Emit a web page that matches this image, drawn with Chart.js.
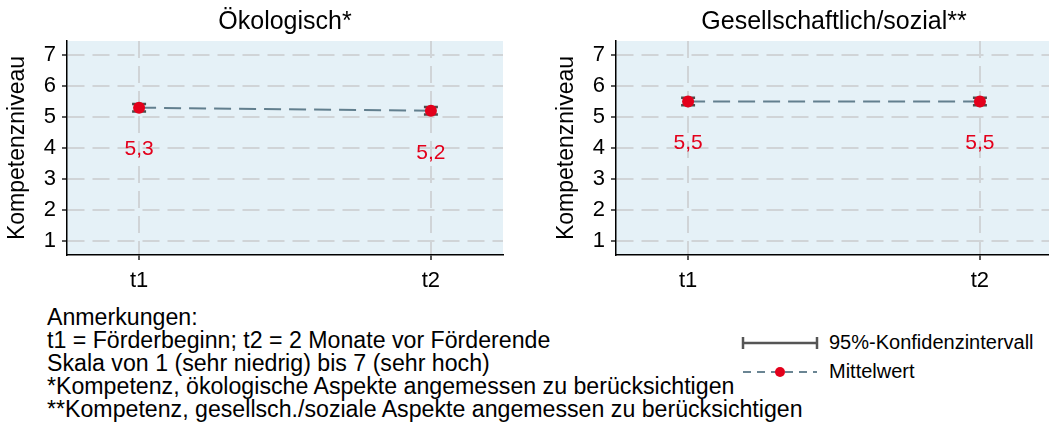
<!DOCTYPE html>
<html>
<head>
<meta charset="utf-8">
<script src="https://cdn.jsdelivr.net/npm/chart.js@4"></script>
<style>
  html, body { margin: 0; padding: 0; background: #fff; overflow: hidden; width: 1049px; height: 425px; }
  .panel { position: absolute; top: 0; }
  #notes { position: absolute; left: 47px; top: 306px; font: 23px "Liberation Sans", Arial, sans-serif; line-height: 23px; color: #000; white-space: nowrap; }
  #notes span { display: inline-block; }
  #legend { position: absolute; left: 735px; top: 328px; font: 20px "Liberation Sans", Arial, sans-serif; color: #000; }
  #legend div { height: 29px; display: flex; align-items: center; }
  #legend svg { margin-right: 10px; }
</style>
</head>
<body>
<canvas id="oeko" class="panel" width="520" height="300" style="left:0"></canvas>
<canvas id="sozial" class="panel" width="520" height="300" style="left:549px"></canvas>

<div id="notes">
  <span>Anmerkungen:</span><br>
  <span>t1 = Förderbeginn; t2 = 2 Monate vor Förderende</span><br>
  <span>Skala von 1 (sehr niedrig) bis 7 (sehr hoch)</span><br>
  <span>*Kompetenz, ökologische Aspekte angemessen zu berücksichtigen</span><br>
  <span id="longest">**Kompetenz, gesellsch./soziale Aspekte angemessen zu berücksichtigen</span>
</div>

<div id="legend">
  <div>
    <svg width="84" height="14"><line x1="8" y1="7" x2="82" y2="7" stroke="#555" stroke-width="2.5"/><line x1="8" y1="1" x2="8" y2="13" stroke="#555" stroke-width="2.5"/><line x1="82" y1="1" x2="82" y2="13" stroke="#555" stroke-width="2.5"/></svg>
    95%-Konfidenzintervall
  </div>
  <div>
    <svg width="84" height="14"><line x1="8" y1="7" x2="82" y2="7" stroke="#6a8593" stroke-width="2" stroke-dasharray="8,6"/><circle cx="45" cy="7" r="5" fill="#e3001b"/></svg>
    Mittelwert
  </div>
</div>

<script>
const categories = ['t1', 't2'];
const yTicks = [1, 2, 3, 4, 5, 6, 7];

const oekoMean = [5.3, 5.2];
const oekoLower = [5.18, 5.08];
const oekoUpper = [5.42, 5.32];

const sozialMean = [5.5, 5.5];
const sozialLower = [5.38, 5.38];
const sozialUpper = [5.62, 5.62];

const FONT = '"Liberation Sans", Arial, sans-serif';
const RED = '#e3001b';

// Anmerkungen auf feste Breite bringen (längste Zeile ~756px)
(function fitNotes() {
  const notes = document.getElementById('notes');
  const w = document.getElementById('longest').getBoundingClientRect().width;
  if (w > 0) notes.style.fontSize = (23 * 756 / w).toFixed(2) + 'px';
})();

// hellblauer Hintergrund der Plotfläche
const plotBg = {
  id: 'plotBg',
  beforeDraw(chart) {
    const a = chart.chartArea, ctx = chart.ctx;
    ctx.save();
    ctx.fillStyle = '#e5f1f7';
    ctx.fillRect(a.left, a.top, a.right - a.left, a.bottom - a.top);
    ctx.restore();
  }
};

// Konfidenzintervalle hinter den Punkten
const ciBars = {
  id: 'ciBars',
  beforeDatasetsDraw(chart) {
    const ds = chart.data.datasets[0];
    const { x, y } = chart.scales;
    const ctx = chart.ctx;
    ctx.save();
    ctx.strokeStyle = '#4d4d4d';
    ctx.lineWidth = 2.5;
    ds.lower.forEach((lo, i) => {
      const px = x.getPixelForValue(i + 1);
      const y1 = y.getPixelForValue(lo), y2 = y.getPixelForValue(ds.upper[i]);
      ctx.beginPath();
      ctx.moveTo(px, y1); ctx.lineTo(px, y2);
      ctx.moveTo(px - 7, y1); ctx.lineTo(px + 7, y1);
      ctx.moveTo(px - 7, y2); ctx.lineTo(px + 7, y2);
      ctx.stroke();
    });
    ctx.restore();
  }
};

// Mittelwerte als Text unter den Punkten
const meanLabels = {
  id: 'meanLabels',
  afterDatasetsDraw(chart) {
    const meta = chart.getDatasetMeta(0);
    const ds = chart.data.datasets[0];
    const ctx = chart.ctx;
    ctx.save();
    ctx.fillStyle = RED;
    ctx.font = '21px ' + FONT;
    ctx.textAlign = 'center';
    ctx.textBaseline = 'middle';
    meta.data.forEach((pt, i) => {
      ctx.fillText(ds.data[i].y.toFixed(1).replace('.', ','), pt.x, pt.y + 42);
    });
    ctx.restore();
  }
};

function gridOpts() {
  return {
    color: '#d0d4d7',
    lineWidth: 2,
    tickColor: '#222',
    tickWidth: 1.5,
    tickLength: 5,
    tickBorderDash: []
  };
}

function makePanel(id, title, mean, lower, upper) {
  new Chart(document.getElementById(id), {
    type: 'scatter',
    data: {
      datasets: [{
        data: mean.map((v, i) => ({ x: i + 1, y: v })),
        lower: lower,
        upper: upper,
        showLine: true,
        borderColor: '#627f8e',
        borderWidth: 2,
        borderDash: [17, 8],
        pointRadius: 6,
        pointHoverRadius: 6,
        pointBackgroundColor: RED,
        pointBorderWidth: 0
      }]
    },
    options: {
      responsive: false,
      animation: false,
      events: [],
      layout: { padding: { left: 0, right: 17, top: 0, bottom: 0 } },
      plugins: {
        legend: { display: false },
        tooltip: { enabled: false },
        title: {
          display: true,
          text: title,
          fullSize: false,
          color: '#000',
          font: { family: FONT, size: 25, weight: 'normal' },
          padding: { top: 7, bottom: 4 }
        }
      },
      scales: {
        x: {
          type: 'linear',
          min: 0.753,
          max: 2.247,
          afterBuildTicks: s => { s.ticks = categories.map((c, i) => ({ value: i + 1 })); },
          afterFit: s => { s.height = 45; },
          grid: gridOpts(),
          border: { display: true, color: '#000', width: 1.5, dash: [17, 8] },
          ticks: {
            color: '#000',
            font: { family: FONT, size: 22 },
            padding: 8,
            maxRotation: 0,
            callback: v => categories[v - 1]
          }
        },
        y: {
          min: 0.55,
          max: 7.45,
          afterBuildTicks: s => { s.ticks = yTicks.map(v => ({ value: v })); },
          afterFit: s => { s.width = 67; },
          grid: gridOpts(),
          border: { display: true, color: '#000', width: 1.5, dash: [17, 8] },
          ticks: {
            color: '#000',
            font: { family: FONT, size: 22 },
            padding: 6
          },
          title: {
            display: true,
            text: 'Kompetenzniveau',
            color: '#000',
            font: { family: FONT, size: 23 },
            padding: { top: 4, bottom: 0 }
          }
        }
      }
    },
    plugins: [plotBg, ciBars, meanLabels]
  });
}

makePanel('oeko', 'Ökologisch*', oekoMean, oekoLower, oekoUpper);
makePanel('sozial', 'Gesellschaftlich/sozial**', sozialMean, sozialLower, sozialUpper);
</script>
</body>
</html>
